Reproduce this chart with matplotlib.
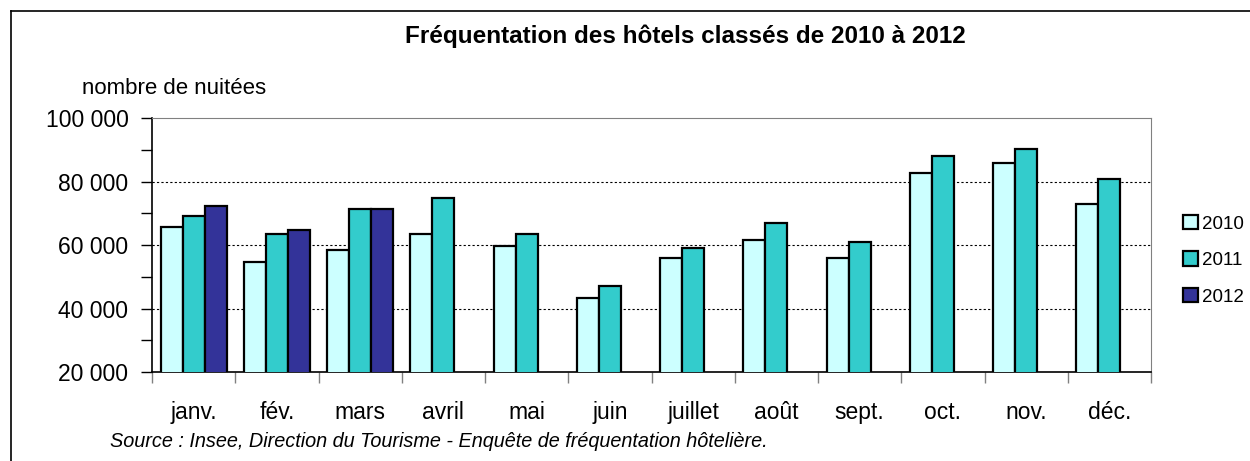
import matplotlib
matplotlib.use("Agg")
import matplotlib.pyplot as plt
import numpy as np
from matplotlib.ticker import MultipleLocator, FuncFormatter
from matplotlib.lines import Line2D

plt.rcParams['font.family'] = ['Liberation Sans', 'DejaVu Sans']

months = ["janv.", "fév.", "mars", "avril", "mai", "juin",
          "juillet", "août", "sept.", "oct.", "nov.", "déc."]
nuitees_2010 = [65800, 54600, 58400, 63500, 59800, 43300,
                55900, 61500, 55900, 82800, 85900, 72800]
nuitees_2011 = [69100, 63500, 71400, 74900, 63600, 47000,
                59100, 67000, 60800, 88000, 90300, 80900]
nuitees_2012 = [72300, 64700, 71400]
years = ["2010", "2011", "2012"]
colors = ["#CCFFFF", "#33CCCC", "#333399"]

fig = plt.figure(figsize=(12.5, 4.61), dpi=100)
ax = fig.add_axes([0.1216, 0.193, 0.7992, 0.551])

x = np.arange(len(months))
w = 0.264
series = [nuitees_2010, nuitees_2011, nuitees_2012]
for i, vals in enumerate(series):
    xs = x[:len(vals)] + (i - 1) * w
    ax.bar(xs, vals, w, color=colors[i], edgecolor="black", linewidth=1.6,
           label=years[i], zorder=3)

ax.set_xlim(-0.5, 11.5)
ax.set_ylim(20000, 100000)
ax.yaxis.set_major_locator(MultipleLocator(20000))
ax.yaxis.set_minor_locator(MultipleLocator(10000))
ax.yaxis.set_major_formatter(FuncFormatter(lambda v, p: f"{int(v):,}".replace(",", " ")))
for g in [40000, 60000, 80000]:
    ax.axhline(g, color="black", linestyle=(0, (2, 2)), linewidth=0.8, zorder=1)

ax.set_xticks(np.arange(-0.5, 12, 1))
ax.set_xticklabels([])
ax.set_xticks(x, minor=True)
ax.set_xticklabels(months, minor=True, fontsize=16.5)
ax.tick_params(axis="x", which="major", length=8, width=1, color="gray", direction="out")
ax.tick_params(axis="x", which="minor", length=0, pad=21)
ax.tick_params(axis="y", which="both", length=8, width=1, direction="out",
               labelsize=16.5, pad=9)

for s in ["top", "right"]:
    ax.spines[s].set_color("gray")
ax.spines["left"].set_color("black")
ax.spines["bottom"].set_color("black")
ax.spines["left"].set_linewidth(1.2)
ax.spines["bottom"].set_linewidth(1.2)

fig.text(0.548, 0.922, "Fréquentation des hôtels classés de 2010 à 2012",
         ha="center", va="center", fontsize=17.5, fontweight="bold")
fig.text(0.066, 0.808, "nombre de nuitées", ha="left", va="center", fontsize=16)
fig.text(0.088, 0.043, "Source : Insee, Direction du Tourisme - Enquête de fréquentation hôtelière.",
         ha="left", va="center", fontsize=14.3, style="italic")

ax.legend(loc="center left", bbox_to_anchor=(1.025, 0.44), frameon=False,
          fontsize=13.5, handlelength=0.8, handleheight=0.8,
          handletextpad=0.2, labelspacing=1.0, borderaxespad=0)

# cadre du graphique (bords gauche et haut)
fig.add_artist(Line2D([0.0088, 0.0088], [0, 0.977], transform=fig.transFigure,
                      color="black", linewidth=1.2))
fig.add_artist(Line2D([0.0088, 1], [0.977, 0.977], transform=fig.transFigure,
                      color="black", linewidth=1.2))

fig.savefig("out.png", dpi=100)
